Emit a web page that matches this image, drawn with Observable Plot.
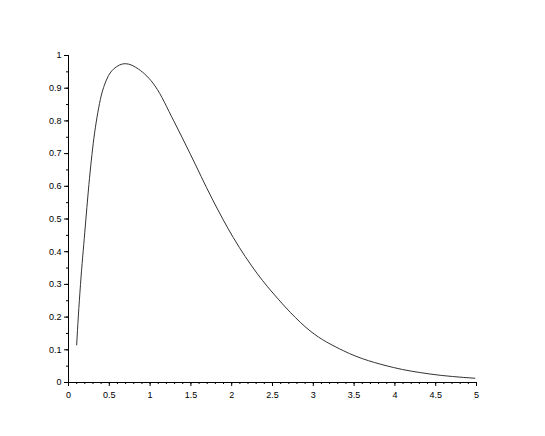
<!DOCTYPE html>
<html>
<head>
<meta charset="utf-8">
<script src="https://cdn.jsdelivr.net/npm/d3@7"></script>
<script src="https://cdn.jsdelivr.net/npm/@observablehq/plot@0.6"></script>
<style>
  html, body { margin: 0; padding: 0; background: #fff; }
</style>
</head>
<body>
<div id="chart"></div>
<script>
// Values
const xs = [0.1, 0.12, 0.147, 0.2, 0.25, 0.31, 0.35, 0.39, 0.47, 0.55, 0.695, 0.86, 1.06, 1.29, 1.49, 1.76, 2.02, 2.31, 2.57, 2.72, 2.96, 3.37, 3.98, 4.43, 4.98];
const ys = [0.115, 0.2, 0.3, 0.46, 0.605, 0.745, 0.812, 0.865, 0.928, 0.958, 0.975, 0.958, 0.907, 0.80, 0.70, 0.562, 0.443, 0.334, 0.255, 0.214, 0.158, 0.097, 0.046, 0.026, 0.013];

const xTicks = [0, 0.5, 1, 1.5, 2, 2.5, 3, 3.5, 4, 4.5, 5];
const xTickLabels = ["0", "0.5", "1", "1.5", "2", "2.5", "3", "3.5", "4", "4.5", "5"];
const xMinorTicks = [0, 0.1, 0.2, 0.3, 0.4, 0.5, 0.6, 0.7, 0.8, 0.9, 1, 1.1, 1.2, 1.3, 1.4, 1.5, 1.6, 1.7, 1.8, 1.9, 2, 2.1, 2.2, 2.3, 2.4, 2.5, 2.6, 2.7, 2.8, 2.9, 3, 3.1, 3.2, 3.3, 3.4, 3.5, 3.6, 3.7, 3.8, 3.9, 4, 4.1, 4.2, 4.3, 4.4, 4.5, 4.6, 4.7, 4.8, 4.9, 5];
const yTicks = [0, 0.1, 0.2, 0.3, 0.4, 0.5, 0.6, 0.7, 0.8, 0.9, 1];
const yTickLabels = ["0", "0.1", "0.2", "0.3", "0.4", "0.5", "0.6", "0.7", "0.8", "0.9", "1"];
const yMinorTicks = [0, 0.05, 0.1, 0.15, 0.2, 0.25, 0.3, 0.35, 0.4, 0.45, 0.5, 0.55, 0.6, 0.65, 0.7, 0.75, 0.8, 0.85, 0.9, 0.95, 1];

const data = xs.map((x, i) => ({x, y: ys[i]}));
const xLabel = new Map(xTicks.map((t, i) => [t, xTickLabels[i]]));
const yLabel = new Map(yTicks.map((t, i) => [t, yTickLabels[i]]));

const chart = Plot.plot({
  width: 545,
  height: 436,
  marginLeft: 68,
  marginRight: 69,
  marginTop: 55,
  marginBottom: 54,
  style: {fontFamily: "'Liberation Sans', Arial, sans-serif", fontSize: "9px", color: "#000", background: "#fff"},
  x: {domain: [0, 5]},
  y: {domain: [0, 1]},
  marks: [
    Plot.axisX({ticks: xMinorTicks, tickSize: 2, tickFormat: () => "", label: null, stroke: "#000"}),
    Plot.axisX({ticks: xTicks, tickSize: 4, tickPadding: 5, tickFormat: d => xLabel.get(d), label: null, stroke: "#000"}),
    Plot.axisY({ticks: yMinorTicks, tickSize: 2, tickFormat: () => "", label: null, stroke: "#000"}),
    Plot.axisY({ticks: yTicks, tickSize: 4, tickPadding: 3, tickFormat: d => yLabel.get(d), label: null, stroke: "#000"}),
    Plot.ruleX([0], {stroke: "#000", strokeWidth: 1}),
    Plot.ruleY([0], {stroke: "#000", strokeWidth: 1}),
    Plot.line(data, {x: "x", y: "y", stroke: "#333", strokeWidth: 1, curve: "monotone-x"})
  ]
});
document.getElementById("chart").append(chart);
</script>
</body>
</html>
